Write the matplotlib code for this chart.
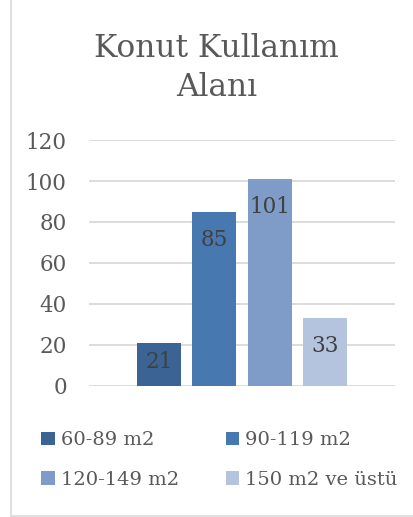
import matplotlib
matplotlib.use("Agg")
from matplotlib import pyplot as plt
from matplotlib.lines import Line2D
import numpy as np

title = "Konut Kullanım\nAlanı"
series_names = ["60-89 m2", "90-119 m2", "120-149 m2", "150 m2 ve üstü"]
values = [21, 85, 101, 33]
colors = ["#3B6394", "#4878B0", "#7F9CC8", "#B4C4DF"]
yticks = [0, 20, 40, 60, 80, 100, 120]

plt.rcParams['font.family'] = ['DejaVu Serif']

fig = plt.figure(figsize=(4.14, 5.17), dpi=100)
ax = fig.add_axes([0.215, 0.2534, 0.739, 0.4758])

# one category, four series side by side
offsets = np.arange(len(values)) - (len(values) - 1) / 2.0
handles = []
for off, v, c, name in zip(offsets, values, colors, series_names):
    b = ax.bar(off, v, width=0.8, color=c, label=name, zorder=3)
    handles.append(b)
    # label inside end, pushed up for short bars
    ly = max(v - 13.7, 11.7)
    ax.text(off, ly, str(v), ha="center", va="center", fontsize=15.5,
            color="#404040", zorder=4)

ax.set_xlim(-2.757, 2.757)
ax.set_ylim(0, 120)
ax.set_yticks(yticks)
ax.set_xticks([])
ax.yaxis.grid(True, color="#D9D9D9", linewidth=1.3, zorder=0)
ax.set_axisbelow(True)
for s in ax.spines.values():
    s.set_visible(False)
ax.tick_params(axis="y", length=0, pad=16, labelsize=15.5, labelcolor="#595959")

fig.text(0.523, 0.868, title, ha="center", va="center", fontsize=22.5,
         color="#595959", linespacing=1.32)

# legend filled row by row
order = [0, 2, 1, 3]
leg = fig.legend([handles[i] for i in order], [series_names[i] for i in order],
                 loc="upper left", bbox_to_anchor=(0.1, 0.166), ncol=2,
                 frameon=False, fontsize=14, handlelength=0.7, handleheight=0.7,
                 handletextpad=0.3, columnspacing=2.4, labelspacing=1.12,
                 borderaxespad=0, borderpad=0)
for t in leg.get_texts():
    t.set_color("#595959")

# chart border
fig.add_artist(Line2D([10.5 / 414, 10.5 / 414], [1 - 515.5 / 517, 1], color="#D9D9D9", lw=1.2))
fig.add_artist(Line2D([10.5 / 414, 1], [1 - 515.5 / 517, 1 - 515.5 / 517], color="#D9D9D9", lw=1.2))

fig.savefig("out.png", dpi=100)
